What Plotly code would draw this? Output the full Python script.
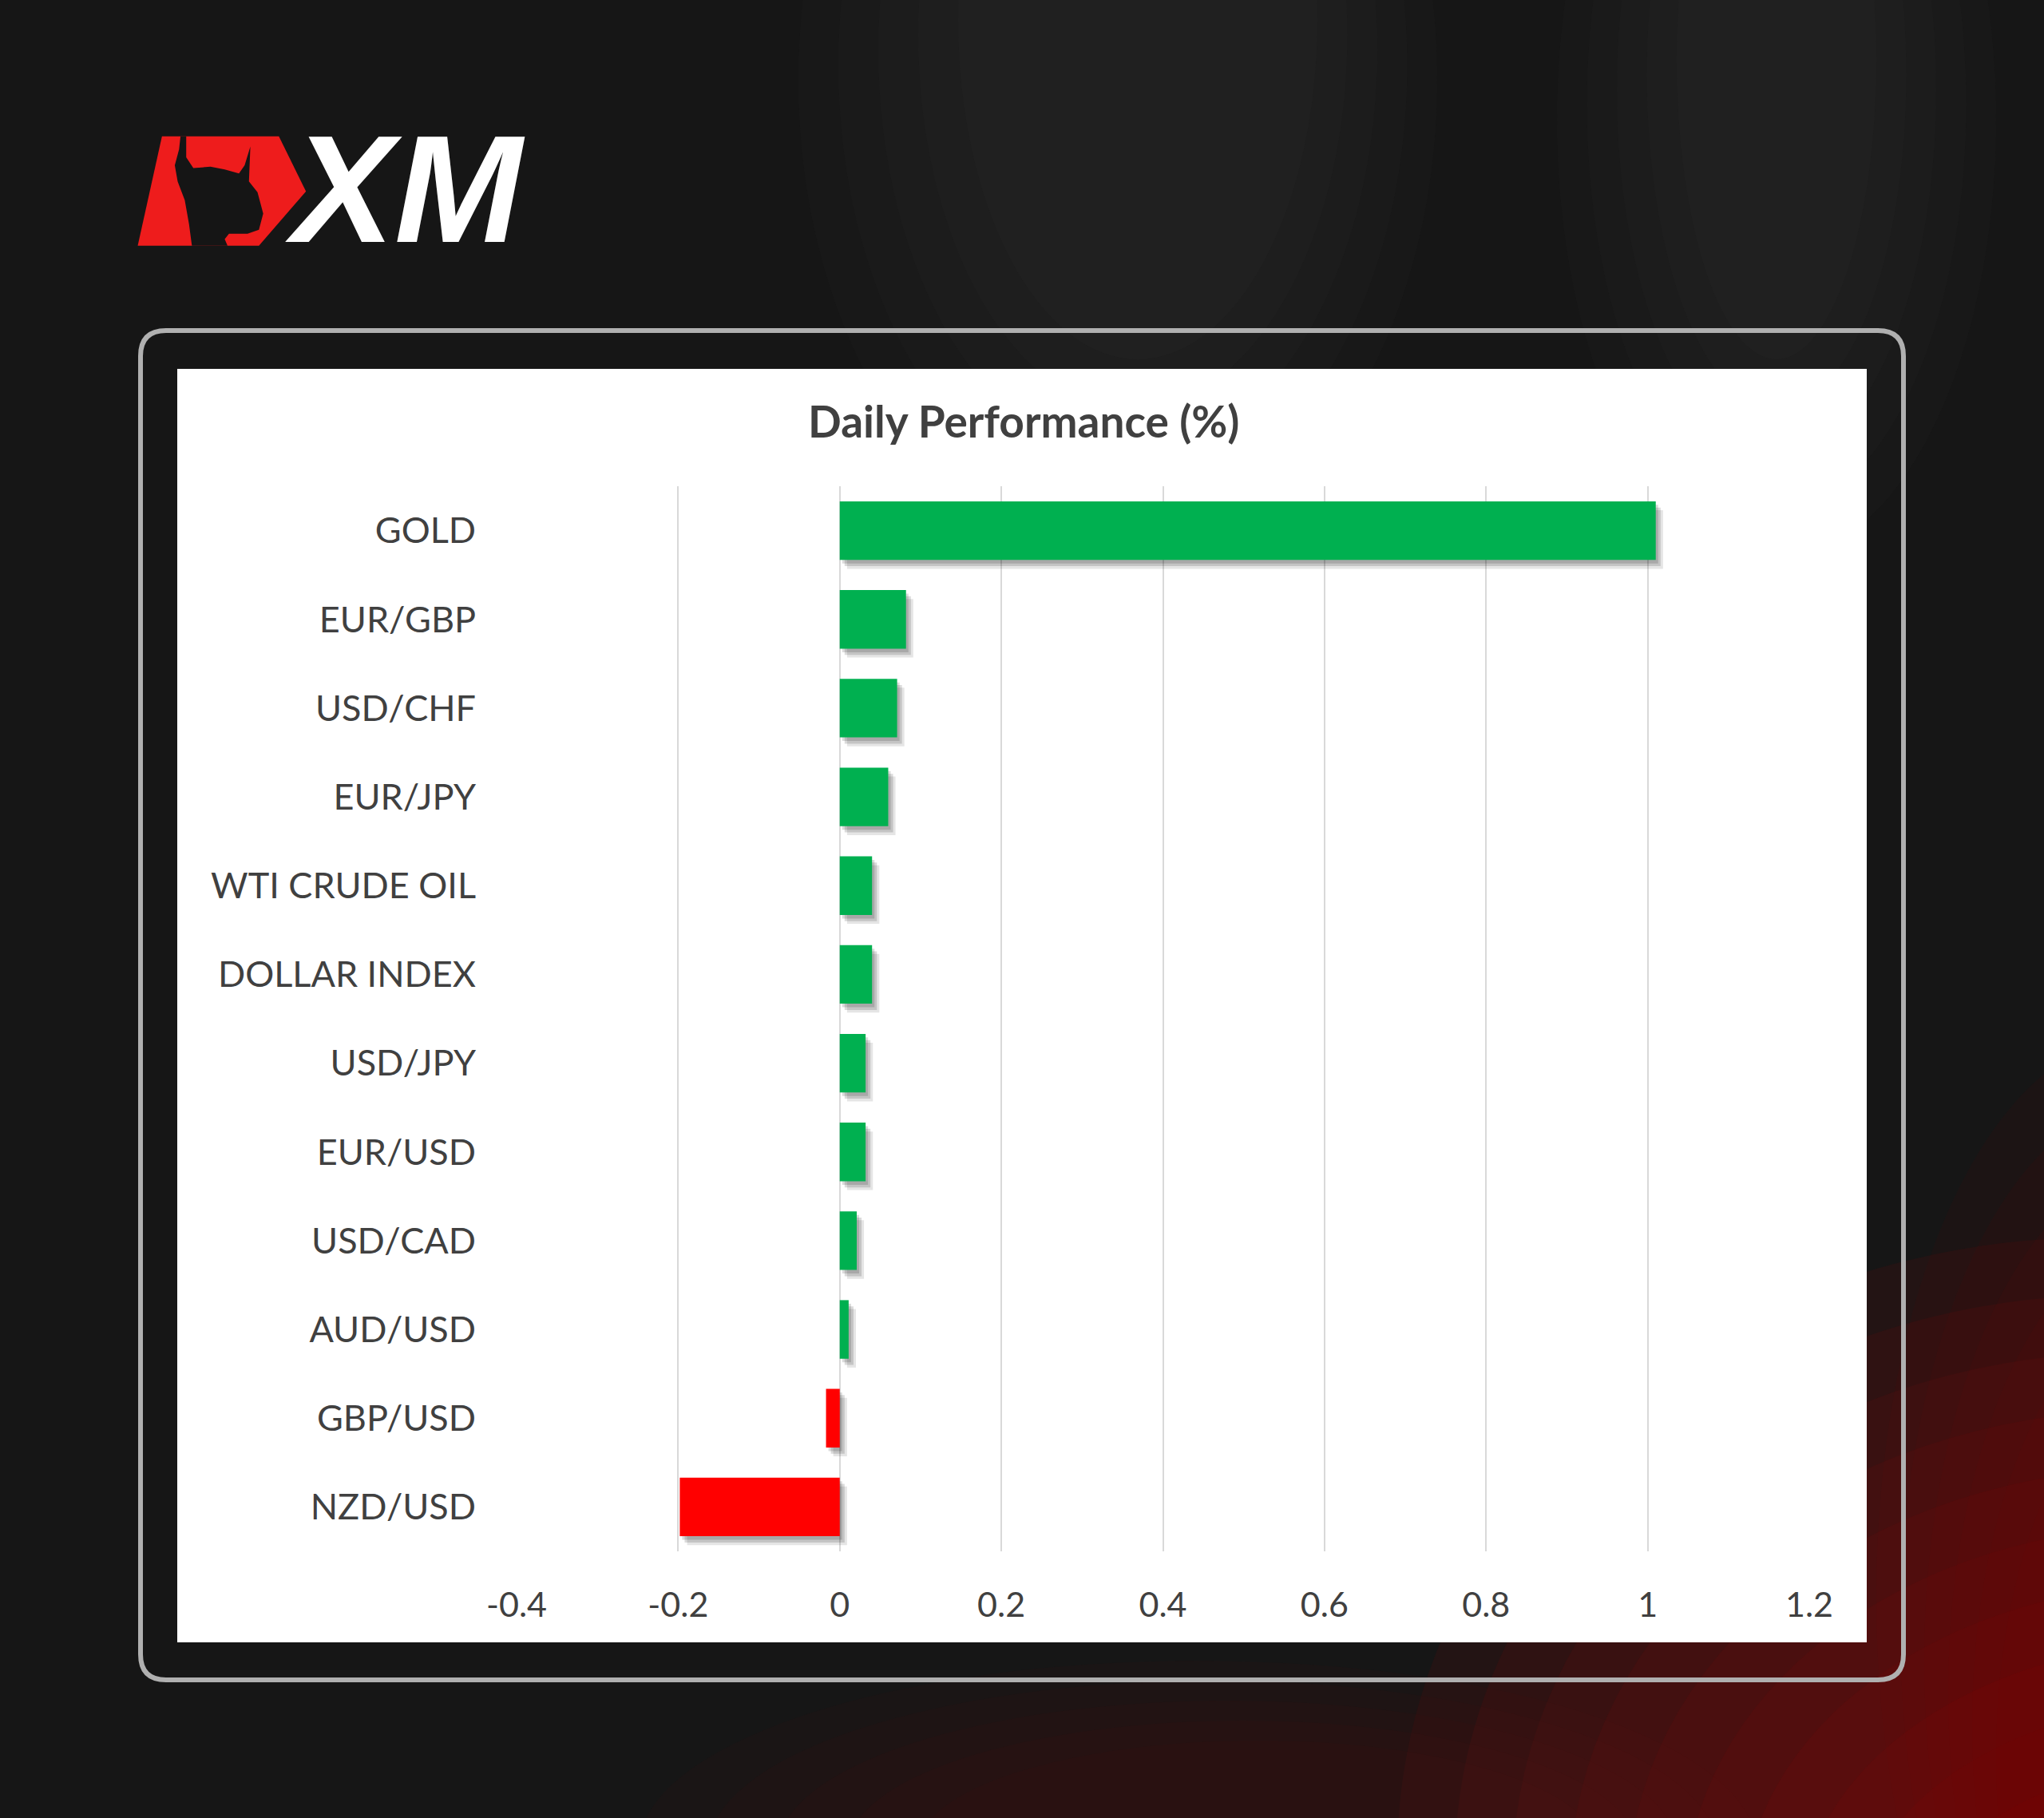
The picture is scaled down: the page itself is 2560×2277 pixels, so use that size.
import plotly.graph_objects as go

W, H = 2560, 2277

categories = ["GOLD", "EUR/GBP", "USD/CHF", "EUR/JPY", "WTI CRUDE OIL", "DOLLAR INDEX",
              "USD/JPY", "EUR/USD", "USD/CAD", "AUD/USD", "GBP/USD", "NZD/USD"]
values = [1.01, 0.082, 0.071, 0.060, 0.040, 0.040, 0.032, 0.032, 0.021, 0.011, -0.017, -0.198]
x_ticks = [-0.4, -0.2, 0, 0.2, 0.4, 0.6, 0.8, 1, 1.2]
x_tick_text = ["-0.4", "-0.2", "0", "0.2", "0.4", "0.6", "0.8", "1", "1.2"]
title_text = "Daily Performance (%)"


def px(x):
    return x / W


def py(y):
    return 1 - y / H


bar_colors = ["#00B050" if v >= 0 else "#FF0000" for v in values]
BW = 0.66

fig = go.Figure()
# soft drop shadows (Excel style)
for base_shift, off_shift, alpha in [(0.009, 0.10, 0.10), (0.006, 0.07, 0.14), (0.003, 0.04, 0.14)]:
    fig.add_trace(go.Bar(
        y=categories, x=values, base=[base_shift] * len(values), orientation="h",
        width=BW, offset=-BW / 2 + off_shift,
        marker=dict(color=f"rgba(0,0,0,{alpha})", line=dict(width=0)),
        hoverinfo="skip", showlegend=False))
fig.add_trace(go.Bar(
    y=categories, x=values, orientation="h", width=BW, offset=-BW / 2,
    marker=dict(color=bar_colors, line=dict(width=0)), showlegend=False))

shapes = []
# background glows (layered for soft gradients)
glows = []
for i in range(10):
    k = i / 9
    glows.append((1750 + 650 * k, 1550 + 650 * k, 3500 - 300 * k, 3100 - 450 * k, "rgba(150,6,6,0.11)"))
for i in range(6):
    k = i / 5
    glows.append((2350 + 150 * k, 1300 + 400 * k, 3000, 2700, "rgba(140,6,6,0.06)"))
for i in range(5):
    k = i / 4
    glows.append((800 + 350 * k, 2080 + 100 * k, 2200 - 200 * k, 2550 - 100 * k, "rgba(110,12,12,0.06)"))
for i in range(5):
    k = i / 4
    glows.append((1000 + 200 * k, -500 + 100 * k, 1800 - 150 * k, 700 - 250 * k, "rgba(70,70,70,0.05)"))
for i in range(5):
    k = i / 4
    glows.append((1950 + 150 * k, -400 + 100 * k, 2500 - 150 * k, 700 - 250 * k, "rgba(70,70,70,0.05)"))
for x0, y0, x1, y1, c in glows:
    shapes.append(dict(type="circle", xref="paper", yref="paper", layer="below",
                       x0=px(x0), x1=px(x1), y0=py(y1), y1=py(y0),
                       fillcolor=c, line=dict(width=0)))

# outer rounded frame
L, T, R, B, r = 176, 414, 2384, 2104, 32


def rr_path(L, T, R, B, r):
    return (f"M {px(L + r)},{py(T)} L {px(R - r)},{py(T)} "
            f"Q {px(R)},{py(T)} {px(R)},{py(T + r)} L {px(R)},{py(B - r)} "
            f"Q {px(R)},{py(B)} {px(R - r)},{py(B)} L {px(L + r)},{py(B)} "
            f"Q {px(L)},{py(B)} {px(L)},{py(B - r)} L {px(L)},{py(T + r)} "
            f"Q {px(L)},{py(T)} {px(L + r)},{py(T)} Z")


shapes.append(dict(type="path", xref="paper", yref="paper", layer="below",
                   path=rr_path(L, T, R, B, r), line=dict(color="#b0b0b0", width=6),
                   fillcolor="rgba(0,0,0,0)"))
# white chart panel
shapes.append(dict(type="rect", xref="paper", yref="paper", layer="below",
                   x0=px(222), x1=px(2338), y0=py(2057), y1=py(462),
                   fillcolor="#FFFFFF", line=dict(width=0)))


# XM logo red block with bull silhouette
def zpt(zx, zy):
    return px(160 + zx / 2.8), py(140 + zy / 2.98)


red_pts = [(120, 92), (530, 92), (625, 297), (460, 500), (35, 500)]
bull_pts = [(185, 92), (205, 92), (205, 170), (230, 210), (290, 205), (340, 215), (390, 230),
            (410, 200), (430, 130), (425, 260), (455, 300), (475, 380), (460, 440), (420, 455),
            (355, 455), (340, 475), (350, 500), (225, 500), (215, 420), (200, 330), (175, 260),
            (165, 200), (180, 140)]


def poly(pts):
    s = ""
    for i, (a, b) in enumerate(pts):
        X, Y = zpt(a, b)
        s += ("M " if i == 0 else "L ") + f"{X},{Y} "
    return s + "Z"


shapes.append(dict(type="path", xref="paper", yref="paper", path=poly(red_pts),
                   fillcolor="#EE1C1C", line=dict(width=0)))
shapes.append(dict(type="path", xref="paper", yref="paper", path=poly(bull_pts),
                   fillcolor="#151515", line=dict(width=0)))

annotations = [
    dict(text="<b><i>XM</i></b>", xref="paper", yref="paper", x=px(355), y=py(236),
         xanchor="left", yanchor="middle", showarrow=False,
         font=dict(family="Liberation Sans", size=192, color="#FFFFFF")),
    dict(text="<b>" + title_text + "</b>", xref="paper", yref="paper", x=px(1282), y=py(527),
         xanchor="center", yanchor="middle", showarrow=False,
         font=dict(family="Lato", size=55, color="#404040")),
]

fig.update_layout(
    width=W, height=H,
    margin=dict(l=0, r=0, t=0, b=0, pad=0, autoexpand=False),
    paper_bgcolor="#161616", plot_bgcolor="rgba(0,0,0,0)",
    barmode="overlay",
    shapes=shapes, annotations=annotations,
    xaxis=dict(domain=[px(647), px(2266)], range=[-0.4, 1.2], tickvals=x_ticks,
               ticktext=x_tick_text, showgrid=True, gridcolor="#D9D9D9", gridwidth=2,
               zeroline=True, zerolinecolor="#D9D9D9", zerolinewidth=2, showline=False,
               ticks="", ticklabelstandoff=38, automargin=False,
               tickfont=dict(family="Lato", size=43, color="#404040")),
    yaxis=dict(domain=[py(1943), py(609)], autorange="reversed", type="category",
               categoryorder="array", categoryarray=categories, showgrid=False,
               zeroline=False, showline=False, ticks="", ticklabelstandoff=50,
               automargin=False,
               tickfont=dict(family="Lato", size=45, color="#404040")),
)

fig.write_html("out.html", config={"responsive": False, "displayModeBar": False},
               post_script="document.body.style.margin='0';document.body.style.overflow='hidden';")
